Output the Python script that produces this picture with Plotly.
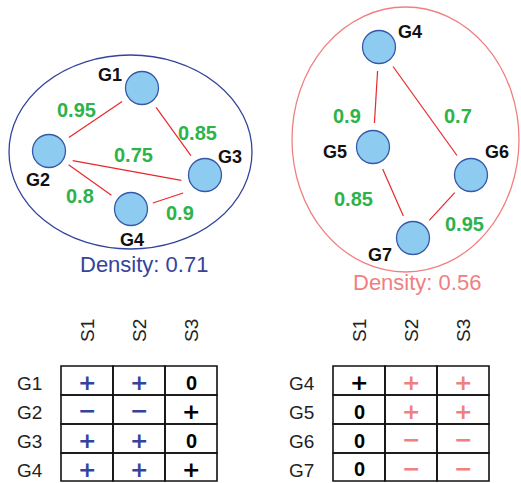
import math
import plotly.graph_objects as go

# ---- data -------------------------------------------------------------
left_nodes = ["G1", "G2", "G3", "G4"]
left_edges = [("G1", "G2", 0.95), ("G1", "G3", 0.85), ("G2", "G3", 0.75),
              ("G2", "G4", 0.8), ("G4", "G3", 0.9)]
left_density = 0.71

right_nodes = ["G4", "G5", "G6", "G7"]
right_edges = [("G4", "G5", 0.9), ("G4", "G6", 0.7), ("G5", "G7", 0.85),
               ("G6", "G7", 0.95)]
right_density = 0.56

columns = ["S1", "S2", "S3"]
left_rows = ["G1", "G2", "G3", "G4"]
left_signs = [["+", "+", "0"],
              ["-", "-", "+"],
              ["+", "+", "0"],
              ["+", "+", "+"]]
left_module_cols = ["S1", "S2"]

right_rows = ["G4", "G5", "G6", "G7"]
right_signs = [["+", "+", "+"],
               ["0", "+", "+"],
               ["0", "-", "-"],
               ["0", "-", "-"]]
right_module_cols = ["S2", "S3"]

# ---- layout (canvas pixel coordinates) ---------------------------------
W, H = 521, 483
FONT = "Liberation Sans, Arial, Helvetica, sans-serif"
SIGN_FONT = "DejaVu Sans, Liberation Sans, sans-serif"
BLUE = "#34449a"
PINK = "#f08080"
GREEN = "#2eb24a"
EDGE = "#e8282c"
NODE_FILL = "#8ecbf0"
NODE_LINE = "#3558a8"

left_pos = {"G1": (142, 88), "G2": (49, 151), "G3": (205, 175), "G4": (131, 209)}
left_lbl = {"G1": (110, 75), "G2": (38, 180), "G3": (230, 157), "G4": (132, 240)}
left_wlbl = [(76, 110), (197, 133), (133, 155), (80, 196), (180, 213)]
# vertical nudges of edge ends where a line meets the lower side of a node
left_attach = {("G2", "G3"): (6, 9), ("G4", "G3"): (4, 8)}
left_oval = (9, 55, 252, 249)
left_dens_xy = (144, 264)

right_pos = {"G4": (379, 47), "G5": (373, 147), "G6": (471, 175), "G7": (413, 238)}
right_lbl = {"G4": (410, 32), "G5": (335, 152), "G6": (497, 152), "G7": (380, 255)}
right_wlbl = [(347, 116), (458, 116), (353, 199), (464, 224)]
right_attach = {}
right_oval = (292, 7, 519, 272)
right_dens_xy = (417, 282)

left_table = dict(x0=61, cw=52, label_x=15)
right_table = dict(x0=333, cw=52, label_x=287)
row_y = [366, 395, 424, 453, 481]
header_y = 331

fig = go.Figure()
shapes = []
annots = []


def add_network(nodes, edges, pos, lbl, wlbl, attach, oval, oval_color, dens, dens_xy):
    shapes.append(dict(type="circle", xref="x", yref="y",
                       x0=oval[0], y0=oval[1], x1=oval[2], y1=oval[3],
                       line=dict(color=oval_color, width=1.3)))
    gap = 24
    for (a, b, w), (lx, ly) in zip(edges, wlbl):
        (xa, ya), (xb, yb) = pos[a], pos[b]
        d = math.hypot(xb - xa, yb - ya)
        ux, uy = (xb - xa) / d, (yb - ya) / d
        da, db = attach.get((a, b), (0, 0))
        fig.add_trace(go.Scatter(
            x=[xa + ux * gap, xb - ux * gap],
            y=[ya + uy * gap + da, yb - uy * gap + db],
            mode="lines", line=dict(color=EDGE, width=1.2),
            hoverinfo="skip", showlegend=False))
        annots.append(dict(x=lx, y=ly, text=f"<b>{w:g}</b>", showarrow=False,
                           font=dict(family=FONT, size=20, color=GREEN)))
    fig.add_trace(go.Scatter(
        x=[pos[n][0] for n in nodes], y=[pos[n][1] for n in nodes],
        mode="markers", text=nodes, hoverinfo="text",
        marker=dict(size=33, color=NODE_FILL, line=dict(color=NODE_LINE, width=1.3)),
        showlegend=False))
    for n in nodes:
        annots.append(dict(x=lbl[n][0], y=lbl[n][1], text=f"<b>{n}</b>",
                           showarrow=False,
                           font=dict(family=FONT, size=18, color="#111111")))
    annots.append(dict(x=dens_xy[0], y=dens_xy[1], text=f"Density: {dens:.2f}",
                       showarrow=False,
                       font=dict(family=FONT, size=22, color=oval_color)))


def add_table(rows, signs, module_cols, color, geo):
    x0, cw = geo["x0"], geo["cw"]
    for j, c in enumerate(columns):
        annots.append(dict(x=x0 + cw * (j + 0.5), y=header_y, text=c,
                           textangle=-90, showarrow=False,
                           font=dict(family=FONT, size=19, color="#222222")))
    for i, r in enumerate(rows):
        y0, y1 = row_y[i], row_y[i + 1]
        yc = (y0 + y1) / 2
        annots.append(dict(x=geo["label_x"], y=yc + 3, text=r, xanchor="left",
                           showarrow=False,
                           font=dict(family=FONT, size=19, color="#222222")))
        for j, c in enumerate(columns):
            shapes.append(dict(type="rect", xref="x", yref="y",
                               x0=x0 + cw * j, x1=x0 + cw * (j + 1), y0=y0, y1=y1,
                               line=dict(color="#111111", width=1.6)))
            s = signs[i][j]
            col = color if c in module_cols else "#000000"
            if s == "0":
                txt, fam, size, dy = "<b>0</b>", FONT, 20, 2
            elif s == "+":
                txt, fam, size, dy = "<b>+</b>", SIGN_FONT, 22, 2
            else:
                txt, fam, size, dy = "<b>\u2212</b>", SIGN_FONT, 22, 1
            annots.append(dict(x=x0 + cw * (j + 0.5), y=yc + dy, text=txt,
                               showarrow=False,
                               font=dict(family=fam, size=size, color=col)))


add_network(left_nodes, left_edges, left_pos, left_lbl, left_wlbl, left_attach,
            left_oval, BLUE, left_density, left_dens_xy)
add_network(right_nodes, right_edges, right_pos, right_lbl, right_wlbl, right_attach,
            right_oval, PINK, right_density, right_dens_xy)
add_table(left_rows, left_signs, left_module_cols, BLUE, left_table)
add_table(right_rows, right_signs, right_module_cols, PINK, right_table)

fig.update_layout(
    width=W, height=H, margin=dict(l=0, r=0, t=0, b=0),
    paper_bgcolor="white", plot_bgcolor="white",
    xaxis=dict(range=[0, W], visible=False, fixedrange=True),
    yaxis=dict(range=[H, 0], visible=False, fixedrange=True),
    shapes=shapes, annotations=annots,
)

fig.write_html("out.html", config={"displayModeBar": False})
